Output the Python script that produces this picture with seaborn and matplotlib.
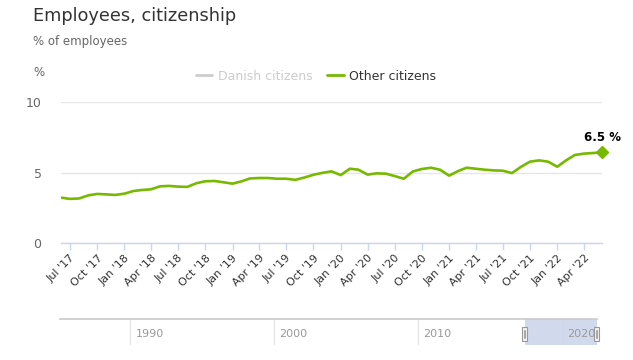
import numpy as np
import pandas as pd
import matplotlib
matplotlib.use("Agg")
import matplotlib.pyplot as plt
import matplotlib.dates as mdates
from matplotlib.lines import Line2D
from matplotlib.patches import Rectangle
import seaborn as sns

# monthly share of employees with other citizenship, Jun 2017 - Jun 2022 (%)
months = pd.date_range("2017-06-01", "2022-06-01", freq="MS")
other_citizens = [
    3.24, 3.15, 3.18, 3.40, 3.50, 3.47, 3.43,              # 2017 Jun-Dec
    3.52, 3.71, 3.78, 3.83, 4.04, 4.07, 4.02, 4.00, 4.26, 4.40, 4.42, 4.33,  # 2018
    4.23, 4.40, 4.60, 4.63, 4.63, 4.58, 4.58, 4.50, 4.67, 4.86, 5.00, 5.10,  # 2019
    4.84, 5.29, 5.22, 4.87, 4.96, 4.94, 4.77, 4.58, 5.10, 5.27, 5.36, 5.22,  # 2020
    4.80, 5.13, 5.36, 5.29, 5.22, 5.17, 5.15, 4.98, 5.43, 5.79, 5.88, 5.79,  # 2021
    5.43, 5.90, 6.26, 6.36, 6.40, 6.45,                                    # 2022 Jan-Jun
]
series_names = ["Danish citizens", "Other citizens"]
last_label = "6.5 %"

# navigator (range selector) years
nav_years = [1990, 2000, 2010, 2020]
nav_span = (1985.1, 2022.45)
nav_selected = (2017.42, 2022.42)

GREEN = "#76b900"
GREY_TXT = "#666666"

df = pd.DataFrame({"month": months, "value": other_citizens})

sns.set_theme(style="white")
plt.rcParams["font.family"] = ["DejaVu Sans"]

fig = plt.figure(figsize=(6.33, 3.6), dpi=100)
W, H = 633, 360


def px_axes(x0, y0, x1, y1):
    return fig.add_axes([x0 / W, 1 - y1 / H, (x1 - x0) / W, (y1 - y0) / H])


ax = px_axes(61, 102.3, 602, 243.3)
sns.lineplot(data=df, x="month", y="value", color=GREEN, linewidth=1.9, ax=ax)

# last point marker + label
ax.plot(df["month"].iloc[-1], df["value"].iloc[-1], marker="D", color=GREEN,
        markersize=6.5, clip_on=False, zorder=5)
ax.annotate(last_label, (df["month"].iloc[-1], df["value"].iloc[-1]),
            xytext=(0, 6), textcoords="offset points", ha="center", va="bottom",
            fontsize=8.5, fontweight="bold", color="#000000", annotation_clip=False)

ax.set_xlim(months[0], months[-1])
ax.set_ylim(0, 10)
ax.set_yticks([0, 5, 10])
ax.set_yticklabels(["0", "5", "10"])
ax.grid(axis="y", color="#e6e6e6", linewidth=1)
ax.grid(axis="x", visible=False)
for s in ["top", "right", "left"]:
    ax.spines[s].set_visible(False)
ax.spines["bottom"].set_color("#ccd6eb")
ax.spines["bottom"].set_linewidth(1)
ax.set_xlabel("")
ax.set_ylabel("")

ax.xaxis.set_major_locator(mdates.MonthLocator(bymonth=[1, 4, 7, 10]))
ax.xaxis.set_major_formatter(mdates.DateFormatter("%b '%y"))
ax.tick_params(axis="x", length=5, color="#ccd6eb", width=1, labelsize=8,
               labelcolor="#333333", pad=2, bottom=True)
ax.tick_params(axis="y", length=0, labelsize=9, labelcolor=GREY_TXT, pad=14)
for lab in ax.get_xticklabels():
    lab.set_rotation(45)
    lab.set_ha("right")
    lab.set_rotation_mode("anchor")

# title / subtitle / axis unit
fig.text(33 / W, 1 - 16 / H, "Employees, citizenship", fontsize=12.8, color="#333333",
         va="center", ha="left")
fig.text(33 / W, 1 - 41 / H, "% of employees", fontsize=8.5, color=GREY_TXT,
         va="center", ha="left")
fig.text(33 / W, 1 - 72 / H, "%", fontsize=8.5, color=GREY_TXT, va="center", ha="left")

# legend (Danish citizens series hidden)
handles = [Line2D([], [], color="#cccccc", linewidth=2),
           Line2D([], [], color=GREEN, linewidth=2)]
leg = fig.legend(handles, series_names, loc="center", bbox_to_anchor=(316 / W, 1 - 76 / H),
                 ncol=2, frameon=False, fontsize=9, handlelength=1.3, handletextpad=0.45,
                 columnspacing=1.2)
leg.get_texts()[0].set_color("#cccccc")
leg.get_texts()[1].set_color("#333333")

# navigator
nav = px_axes(60, 319, 597, 345)
nav.set_xlim(*nav_span)
nav.set_ylim(0, 1)
nav.set_yticks([])
nav.set_xticks([])
for s in ["bottom", "right", "left"]:
    nav.spines[s].set_visible(False)
nav.spines["top"].set_color("#cccccc")
nav.axvspan(*nav_selected, color="#ccd6eb", alpha=0.9, linewidth=0)
for yr in nav_years:
    nav.axvline(yr, color="#e6e6e6", linewidth=1, zorder=0)
    nav.text(yr + 0.35, 0.42, str(yr), fontsize=8, color="#999999", va="center", ha="left")
for xv in nav_selected:
    nav.add_patch(Rectangle((xv - 0.16, 0.15), 0.32, 0.55, facecolor="#f2f2f2",
                            edgecolor="#999999", linewidth=0.8, zorder=4, clip_on=False))
    nav.plot([xv - 0.05, xv - 0.05], [0.28, 0.58], color="#999999", linewidth=0.6,
             zorder=5, clip_on=False)
    nav.plot([xv + 0.05, xv + 0.05], [0.28, 0.58], color="#999999", linewidth=0.6,
             zorder=5, clip_on=False)

fig.savefig("out.png", dpi=100)
